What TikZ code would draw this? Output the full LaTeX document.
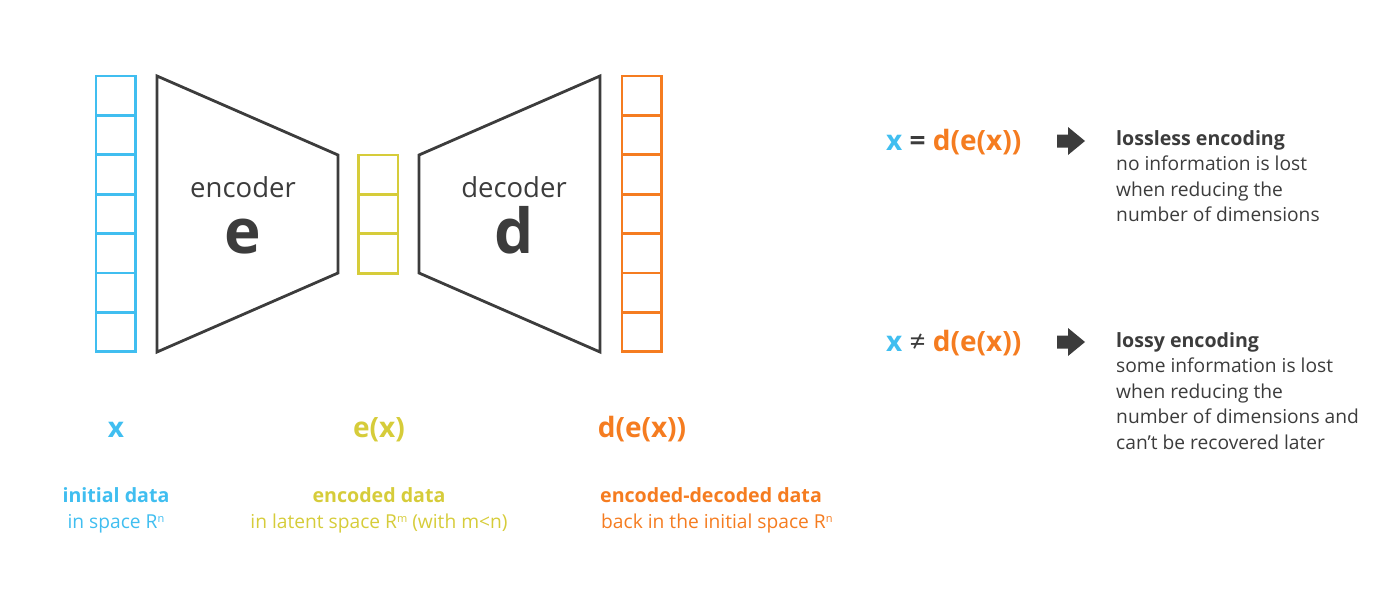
\documentclass[tikz,border=0pt]{standalone}
\usepackage{fontspec}
\setmainfont{Open Sans}
\usetikzlibrary{positioning}
\definecolor{xblue}{RGB}{64,190,240}
\definecolor{eyellow}{RGB}{214,204,58}
\definecolor{dorange}{RGB}{245,124,32}
\definecolor{dgray}{RGB}{60,60,60}
\newcommand{\sps}[1]{\raisebox{0.55ex}{\fontsize{11}{11}\selectfont #1}}
\tikzset{
  cellbox/.style={line width=2.8pt},
  lbl/.style={anchor=base, inner sep=0pt},
  boldtxt/.style={font=\fontsize{19.6}{24}\selectfont\bfseries},
  note/.style={anchor=base west, inner sep=0pt, text=dgray, font=\fontsize{19.2}{24}\selectfont},
}
\begin{document}
\begin{tikzpicture}[x=1pt, y=-1pt, line join=miter, font=\fontsize{19.2}{24}\selectfont]
\useasboundingbox (0,0) rectangle (1400,589);
% vectors x, e(x), d(e(x))
\foreach \c/\x/\y/\k in {xblue/96/76/7, eyellow/358.5/155/3, dorange/622/76/7}
  \foreach \i in {1,...,\k}
    \draw[cellbox, \c] (\x,\y+39.4*\i-39.4) rectangle ++(39.5,39.4);
% encoder and decoder
\coordinate (E1) at (157,76); \coordinate (E2) at (338,155);
\coordinate (E3) at (338,273); \coordinate (E4) at (157,352);
\coordinate (D1) at (419,155); \coordinate (D2) at (600,76);
\coordinate (D3) at (600,352); \coordinate (D4) at (419,273);
\draw[dgray, line width=2.8pt] (E1)--(E2)--(E3)--(E4)--cycle;
\draw[dgray, line width=2.8pt] (D1)--(D2)--(D3)--(D4)--cycle;
\node[lbl, text=dgray, font=\fontsize{27.5}{30}\selectfont] (enc) at (243,197) {encoder};
\node[lbl, text=dgray, font=\fontsize{62}{70}\selectfont\bfseries] (e) at (243,253) {e};
\node[lbl, text=dgray, font=\fontsize{27.5}{30}\selectfont] (dec) at (514,197) {decoder};
\node[lbl, text=dgray, font=\fontsize{62}{70}\selectfont\bfseries] (d) at (514,253) {d};
% labels under the vectors
\foreach \n/\c/\x/\t in {x/xblue/116/x, ex/eyellow/379/e(x), dx/dorange/642/d(e(x))}
  \node[lbl, text=\c, font=\fontsize{28}{30}\selectfont\bfseries] (\n) at (\x,437) {\t};
\node[lbl, boldtxt, text=xblue] (xa) at (116,502) {initial data};
\node[lbl, text=xblue] (xb) at (116,528) {in space R\sps{n}};
\node[lbl, boldtxt, text=eyellow] (exa) at (379,502) {encoded data};
\node[lbl, text=eyellow] (exb) at (379,528) {in latent space R\sps{m} (with m<n)};
\node[lbl, boldtxt, anchor=base west, text=dorange] (dxa) at (600,502) {encoded-decoded data};
\node[lbl, anchor=base west, text=dorange] (dxb) at (601,528) {back in the initial space R\sps{n}};
% lossless / lossy
\node[lbl, anchor=base west, font=\fontsize{28}{30}\selectfont\bfseries] (eq) at (886,150)
  {\textcolor{xblue}{x} \textcolor{dgray}{=} \textcolor{dorange}{d(e(x))}};
\node[lbl, anchor=base west, font=\fontsize{28}{30}\selectfont\bfseries] (neq) at (886,351)
  {\textcolor{xblue}{x} \textcolor{dgray}{\mdseries ≠} \textcolor{dorange}{d(e(x))}};
\foreach \y in {141,342}
  \fill[dgray] (1057,\y-6.5) -- ++(11,0) -- ++(0,-7.5) -- (1085,\y) -- (1068,\y+14)
    -- ++(0,-7.5) -- (1057,\y+6.5) -- cycle;
\node[note, boldtxt] (ll) at (1116,145.3) {lossless encoding};
\foreach \t [count=\i] in {no information is lost, when reducing the, number of dimensions}
  \node[note] (ll\i) at (1116,145.3+25.5*\i) {\t};
\node[note, boldtxt] (ly) at (1116,347) {lossy encoding};
\foreach \t [count=\i] in {some information is lost, when reducing the, number of dimensions and, can’t be recovered later}
  \node[note] (ly\i) at (1116,347+25.5*\i) {\t};
\end{tikzpicture}
\end{document}
